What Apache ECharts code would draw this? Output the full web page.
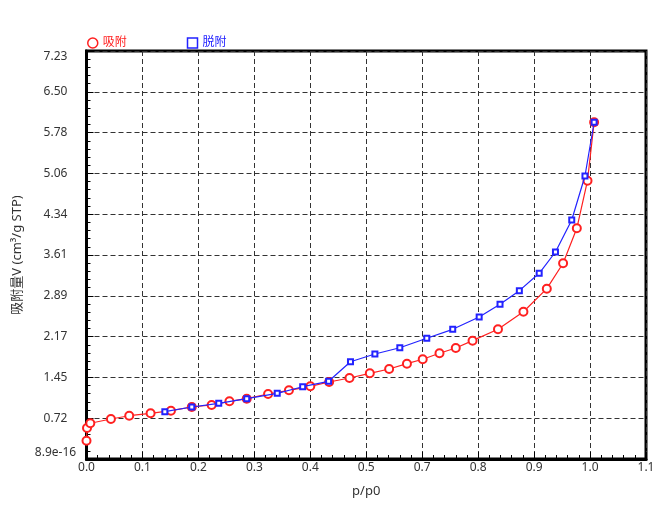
<!DOCTYPE html>
<html>
<head>
<meta charset="utf-8">
<script src="https://cdn.jsdelivr.net/npm/echarts@6/dist/echarts.min.js"></script>
<style>
  html, body { margin: 0; padding: 0; background: #fff; }
  #chart { width: 663px; height: 507px; }
</style>
</head>
<body>
<div id="chart"></div>
<script>
// adsorption branch (red circles)
var adsX = [0.000, 0.001, 0.0075, 0.048, 0.084, 0.126, 0.166, 0.207, 0.246, 0.281, 0.315, 0.357, 0.398, 0.440,
    0.477, 0.517, 0.557, 0.595, 0.630, 0.661, 0.694, 0.726, 0.759, 0.809, 0.859, 0.905, 0.937, 0.964, 0.985, 0.998];
var adsY = [0.324, 0.549, 0.633, 0.709, 0.767, 0.810, 0.856, 0.921, 0.957, 1.022, 1.069, 1.152, 1.217, 1.288,
    1.365, 1.435, 1.518, 1.595, 1.689, 1.767, 1.873, 1.967, 2.097, 2.298, 2.610, 3.018, 3.468, 4.088, 4.932, 5.967];
// desorption branch (blue squares)
var desX = [0.154, 0.207, 0.260, 0.315, 0.375, 0.425, 0.476, 0.519, 0.567, 0.616, 0.669, 0.720, 0.772, 0.813,
    0.851, 0.890, 0.922, 0.954, 0.980, 0.998];
var desY = [0.838, 0.921, 0.987, 1.069, 1.164, 1.281, 1.377, 1.724, 1.861, 1.972, 2.139, 2.298, 2.516, 2.741,
    2.983, 3.291, 3.668, 4.235, 5.015, 5.967];

var xTickLabels = ['0.0', '0.1', '0.2', '0.3', '0.4', '0.5', '0.7', '0.8', '0.9', '1.0', '1.1'];
var yTickLabels = ['8.9e-16', '0.72', '1.45', '2.17', '2.89', '3.61', '4.34', '5.06', '5.78', '6.50', '7.23'];

var redC = '#ff2020';
var blueC = '#2222ff';

function pairs(xs, ys) {
    return xs.map(function (x, i) { return [x, ys[i]]; });
}

var mychart = echarts.init(document.getElementById('chart'));
var font = "'Noto Sans', 'Noto Sans CJK SC', sans-serif";

mychart.setOption({
    animation: false,
    backgroundColor: '#fff',
    textStyle: { fontFamily: font },
    grid: {
        left: 86.5, right: 17, top: 51, bottom: 48,
        outerBoundsMode: 'none', containLabel: false,
        show: true, borderColor: '#000', borderWidth: 3, backgroundColor: 'transparent'
    },
    legend: {
        left: 82, top: 32,
        itemWidth: 10, itemHeight: 10, itemGap: 60,
        textStyle: { fontSize: 12, fontFamily: font },
        data: [
            { name: '吸附', icon: 'circle', itemStyle: { color: '#fff', borderColor: redC, borderWidth: 1.5 }, textStyle: { color: redC } },
            { name: '脱附', icon: 'rect', itemStyle: { color: '#fff', borderColor: blueC, borderWidth: 1.5 }, textStyle: { color: blueC } }
        ]
    },
    xAxis: {
        type: 'value', min: 0, max: 1.1, interval: 0.11,
        name: 'p/p0', nameLocation: 'middle', nameGap: 26,
        nameTextStyle: { fontSize: 13, color: '#333' },
        axisLine: { lineStyle: { color: '#000', width: 3 } },
        axisTick: { inside: true, length: 7, lineStyle: { color: '#000' } },
        minorTick: { show: true, splitNumber: 5, length: 4, lineStyle: { color: '#000' } },
        splitLine: { show: true, lineStyle: { color: '#333', type: [5, 3], width: 1 } },
        axisLabel: {
            margin: 3, fontSize: 12, color: '#333',
            formatter: function (v) { return xTickLabels[Math.round(v / 0.11)]; }
        }
    },
    yAxis: {
        type: 'value', min: 0, max: 7.23, interval: 0.723,
        name: '吸附量V (cm³/g STP)', nameLocation: 'middle', nameGap: 62,
        nameTextStyle: { fontSize: 13, color: '#333' },
        axisLine: { lineStyle: { color: '#000', width: 3 } },
        axisTick: { inside: true, length: 7, lineStyle: { color: '#000' } },
        minorTick: { show: true, splitNumber: 5, length: 4, lineStyle: { color: '#000' } },
        splitLine: { show: true, lineStyle: { color: '#333', type: [5, 3], width: 1 } },
        axisLabel: {
            margin: 31, fontSize: 12, color: '#333', align: 'center',
            verticalAlignMinLabel: 'bottom', verticalAlignMaxLabel: 'top',
            formatter: function (v) { return yTickLabels[Math.round(v / 0.723)]; }
        }
    },
    series: [
        {
            name: '吸附', type: 'line', data: pairs(adsX, adsY),
            symbol: 'emptyCircle', symbolSize: 8,
            lineStyle: { color: redC, width: 1.2 },
            itemStyle: { color: redC, borderWidth: 0.9 },
            z: 2
        },
        {
            name: '脱附', type: 'line', data: pairs(desX, desY),
            symbol: 'emptyRect', symbolSize: 5,
            lineStyle: { color: blueC, width: 1.2 },
            itemStyle: { color: blueC, borderWidth: 1 },
            z: 3
        }
    ]
});
window.addEventListener('resize', function () { mychart.resize(); });
</script>
</body>
</html>
